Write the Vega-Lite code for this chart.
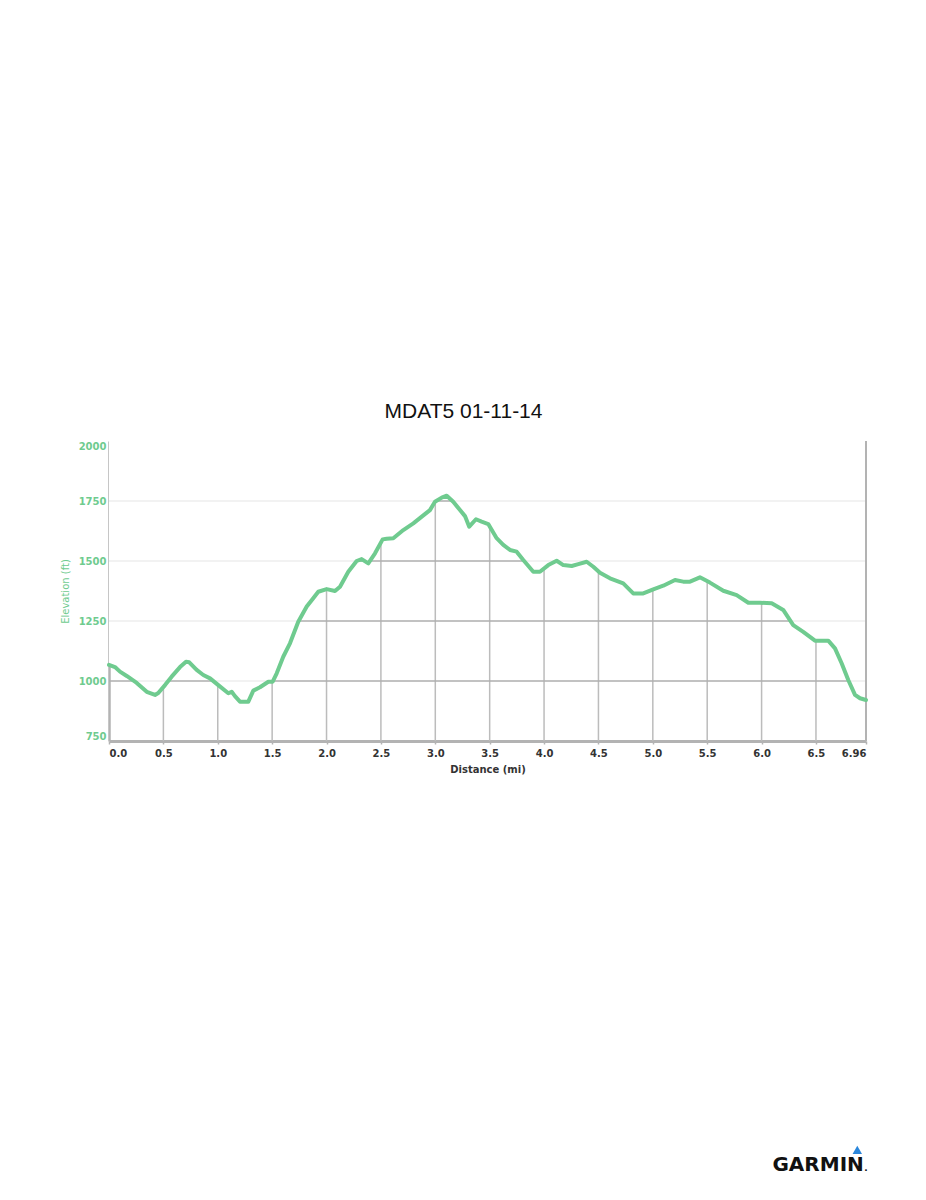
{
  "$schema": "https://vega.github.io/schema/vega-lite/v6.json",
  "width": 757,
  "height": 300,
  "autosize": "none",
  "padding": {"left": 109, "top": 441, "right": 60, "bottom": 459},
  "background": "white",
  "title": {"text": "MDAT5 01-11-14", "fontSize": 21, "font": "Liberation Sans", "fontWeight": "normal", "color": "#111111", "anchor": "middle", "dx": -24, "offset": 18},
  "config": {
    "view": {"stroke": null},
    "axisX": {"zindex": 1, "grid": false, "domainColor": "#b3b3b3", "domainWidth": 3, "tickColor": "#b3b3b3", "tickSize": 3, "tickWidth": 1.5, "labelFont": "DejaVu Sans", "labelFontWeight": "bold", "labelFontSize": 10, "labelColor": "#333333", "labelPadding": 4, "labelFlush": true, "titleFont": "DejaVu Sans", "titleFontWeight": "bold", "titleFontSize": 10, "titleColor": "#333333", "titlePadding": 6},
    "axisY": {"zindex": 1, "grid": false, "ticks": false, "domainColor": "#b3b3b3", "domainWidth": 2.5, "labelFont": "DejaVu Sans", "labelFontWeight": "bold", "labelFontSize": 10, "labelColor": "#6fcb8f", "labelPadding": 3, "labelFlush": true, "titleFont": "DejaVu Sans", "titleFontWeight": "normal", "titleFontSize": 10, "titleColor": "#6fcb8f", "titlePadding": 8}
  },
  "datasets": {
    "profile": [
      {"d": 0.0, "e": 1067}, {"d": 0.055, "e": 1058}, {"d": 0.101, "e": 1039}, {"d": 0.163, "e": 1021},
      {"d": 0.255, "e": 992}, {"d": 0.347, "e": 955}, {"d": 0.423, "e": 942}, {"d": 0.453, "e": 950},
      {"d": 0.515, "e": 983}, {"d": 0.576, "e": 1018}, {"d": 0.653, "e": 1058}, {"d": 0.708, "e": 1080},
      {"d": 0.738, "e": 1078}, {"d": 0.806, "e": 1046}, {"d": 0.867, "e": 1025}, {"d": 0.929, "e": 1011},
      {"d": 1.005, "e": 983}, {"d": 1.097, "e": 949}, {"d": 1.128, "e": 955}, {"d": 1.158, "e": 937},
      {"d": 1.204, "e": 914}, {"d": 1.281, "e": 914}, {"d": 1.327, "e": 960}, {"d": 1.388, "e": 974},
      {"d": 1.465, "e": 997}, {"d": 1.505, "e": 997}, {"d": 1.542, "e": 1032}, {"d": 1.602, "e": 1101},
      {"d": 1.664, "e": 1157}, {"d": 1.74, "e": 1247}, {"d": 1.818, "e": 1310}, {"d": 1.878, "e": 1345},
      {"d": 1.924, "e": 1372}, {"d": 2.001, "e": 1383}, {"d": 2.078, "e": 1375}, {"d": 2.124, "e": 1393},
      {"d": 2.2, "e": 1455}, {"d": 2.277, "e": 1500}, {"d": 2.323, "e": 1508}, {"d": 2.384, "e": 1490},
      {"d": 2.446, "e": 1532}, {"d": 2.516, "e": 1590}, {"d": 2.553, "e": 1593}, {"d": 2.614, "e": 1595},
      {"d": 2.706, "e": 1629}, {"d": 2.798, "e": 1657}, {"d": 2.89, "e": 1690}, {"d": 2.951, "e": 1712},
      {"d": 2.997, "e": 1747}, {"d": 3.059, "e": 1764}, {"d": 3.105, "e": 1772}, {"d": 3.165, "e": 1747},
      {"d": 3.227, "e": 1712}, {"d": 3.273, "e": 1687}, {"d": 3.312, "e": 1643}, {"d": 3.374, "e": 1674},
      {"d": 3.426, "e": 1664}, {"d": 3.487, "e": 1654}, {"d": 3.564, "e": 1595}, {"d": 3.625, "e": 1567},
      {"d": 3.687, "e": 1546}, {"d": 3.748, "e": 1539}, {"d": 3.809, "e": 1504}, {"d": 3.901, "e": 1455},
      {"d": 3.962, "e": 1455}, {"d": 4.039, "e": 1483}, {"d": 4.116, "e": 1501}, {"d": 4.177, "e": 1483},
      {"d": 4.254, "e": 1479}, {"d": 4.315, "e": 1487}, {"d": 4.392, "e": 1497}, {"d": 4.453, "e": 1476},
      {"d": 4.514, "e": 1451}, {"d": 4.606, "e": 1428}, {"d": 4.728, "e": 1407}, {"d": 4.82, "e": 1365},
      {"d": 4.912, "e": 1365}, {"d": 5.004, "e": 1382}, {"d": 5.096, "e": 1397}, {"d": 5.204, "e": 1421},
      {"d": 5.28, "e": 1414}, {"d": 5.342, "e": 1414}, {"d": 5.433, "e": 1432}, {"d": 5.525, "e": 1410},
      {"d": 5.648, "e": 1376}, {"d": 5.771, "e": 1358}, {"d": 5.878, "e": 1326}, {"d": 5.985, "e": 1326},
      {"d": 6.093, "e": 1324}, {"d": 6.199, "e": 1296}, {"d": 6.291, "e": 1233}, {"d": 6.383, "e": 1205},
      {"d": 6.491, "e": 1168}, {"d": 6.613, "e": 1168}, {"d": 6.675, "e": 1136}, {"d": 6.736, "e": 1074},
      {"d": 6.797, "e": 1004}, {"d": 6.859, "e": 942}, {"d": 6.905, "e": 928}, {"d": 6.96, "e": 921}
    ],
    "xgrid": [{"d": 0.5}, {"d": 1.0}, {"d": 1.5}, {"d": 2.0}, {"d": 2.5}, {"d": 3.0}, {"d": 3.5}, {"d": 4.0}, {"d": 4.5}, {"d": 5.0}, {"d": 5.5}, {"d": 6.0}, {"d": 6.5}],
    "ygrid": [{"e": 1000}, {"e": 1250}, {"e": 1500}, {"e": 1750}],
    "logo": [{"name": "GARMIN", "dot": "."}]
  },
  "layer": [
    {
      "data": {"name": "xgrid"},
      "mark": {"type": "rule", "color": "#bcbcbc", "strokeWidth": 1.5},
      "encoding": {
        "x": {"field": "d", "type": "quantitative",
              "scale": {"domain": [0, 6.96], "nice": false, "zero": false},
              "axis": {"title": "Distance (mi)", "values": [0, 0.5, 1, 1.5, 2, 2.5, 3, 3.5, 4, 4.5, 5, 5.5, 6, 6.5, 6.96],
                       "labelExpr": "datum.value == 6.96 ? '6.96' : format(datum.value, '.1f')"}},
        "y": {"datum": 750, "type": "quantitative",
              "scale": {"domain": [750, 2000], "nice": false, "zero": false},
              "axis": {"title": "Elevation (ft)", "format": "d", "values": [750, 1000, 1250, 1500, 1750, 2000]}},
        "y2": {"datum": 2000}
      }
    },
    {
      "data": {"name": "ygrid"},
      "mark": {"type": "rule", "color": "#bcbcbc", "strokeWidth": 1.5},
      "encoding": {
        "y": {"field": "e", "type": "quantitative"},
        "x": {"datum": 0, "type": "quantitative"},
        "x2": {"datum": 6.96}
      }
    },
    {
      "data": {"name": "profile"},
      "mark": {"type": "area", "color": "white", "opacity": 1},
      "encoding": {
        "x": {"field": "d", "type": "quantitative"},
        "y": {"field": "e", "type": "quantitative"},
        "y2": {"datum": 2000}
      }
    },
    {
      "data": {"name": "ygrid"},
      "mark": {"type": "rule", "color": "#000000", "opacity": 0.07, "strokeWidth": 1.5},
      "encoding": {
        "y": {"field": "e", "type": "quantitative"},
        "x": {"datum": 0, "type": "quantitative"},
        "x2": {"datum": 6.96}
      }
    },
    {
      "data": {"name": "logo"},
      "mark": {"type": "rule", "color": "#b3b3b3", "strokeWidth": 2},
      "encoding": {
        "x": {"datum": 6.96, "type": "quantitative"},
        "y": {"datum": 750, "type": "quantitative"},
        "y2": {"datum": 2000}
      }
    },
    {
      "data": {"name": "profile"},
      "mark": {"type": "line", "color": "#6fcb8f", "strokeWidth": 4, "strokeCap": "round", "strokeJoin": "round"},
      "encoding": {
        "x": {"field": "d", "type": "quantitative"},
        "y": {"field": "e", "type": "quantitative"}
      }
    },
    {
      "data": {"name": "logo"},
      "mark": {"type": "text", "font": "DejaVu Sans", "fontWeight": "bold", "fontSize": 20, "color": "#111111", "align": "center", "baseline": "alphabetic"},
      "encoding": {
        "x": {"datum": 6.52, "type": "quantitative"},
        "y": {"datum": -1042, "type": "quantitative"},
        "text": {"field": "name"}
      }
    },
    {
      "data": {"name": "logo"},
      "mark": {"type": "text", "font": "DejaVu Sans", "fontWeight": "bold", "fontSize": 9, "color": "#111111", "align": "left", "baseline": "alphabetic"},
      "encoding": {
        "x": {"datum": 6.945, "type": "quantitative"},
        "y": {"datum": -1042, "type": "quantitative"},
        "text": {"field": "dot"}
      }
    },
    {
      "data": {"name": "logo"},
      "mark": {"type": "point", "shape": "triangle-up", "filled": true, "color": "#2a86db", "size": 90, "opacity": 1},
      "encoding": {
        "x": {"datum": 6.88, "type": "quantitative"},
        "y": {"datum": -954, "type": "quantitative"}
      }
    }
  ]
}
